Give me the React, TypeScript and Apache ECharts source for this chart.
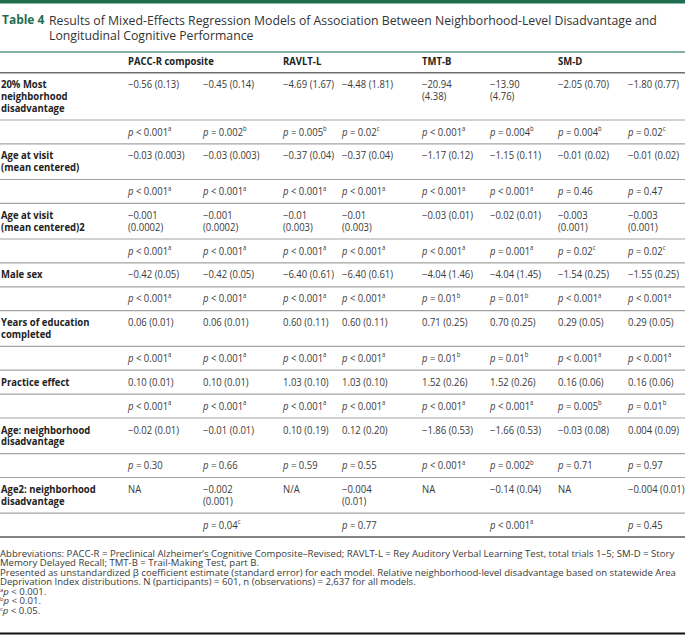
import React, { useEffect, useRef } from "react";
import * as echarts from "echarts";

const titleLabel = "Table 4";
const titleLines = [
  "Results of Mixed-Effects Regression Models of Association Between Neighborhood-Level Disadvantage and",
  "Longitudinal Cognitive Performance",
];

const models = ["PACC-R composite", "RAVLT-L", "TMT-B", "SM-D"];

const rowLabels = [
  "20% Most\nneighborhood\ndisadvantage",
  "Age at visit\n(mean centered)",
  "Age at visit\n(mean centered)2",
  "Male sex",
  "Years of education\ncompleted",
  "Practice effect",
  "Age: neighborhood\ndisadvantage",
  "Age2: neighborhood\ndisadvantage",
];

const estimates: string[][] = [
  ["−0.56 (0.13)", "−0.45 (0.14)", "−4.69 (1.67)", "−4.48 (1.81)", "−20.94\n(4.38)", "−13.90\n(4.76)", "−2.05 (0.70)", "−1.80 (0.77)"],
  ["−0.03 (0.003)", "−0.03 (0.003)", "−0.37 (0.04)", "−0.37 (0.04)", "−1.17 (0.12)", "−1.15 (0.11)", "−0.01 (0.02)", "−0.01 (0.02)"],
  ["−0.001\n(0.0002)", "−0.001\n(0.0002)", "−0.01\n(0.003)", "−0.01\n(0.003)", "−0.03 (0.01)", "−0.02 (0.01)", "−0.003\n(0.001)", "−0.003\n(0.001)"],
  ["−0.42 (0.05)", "−0.42 (0.05)", "−6.40 (0.61)", "−6.40 (0.61)", "−4.04 (1.46)", "−4.04 (1.45)", "−1.54 (0.25)", "−1.55 (0.25)"],
  ["0.06 (0.01)", "0.06 (0.01)", "0.60 (0.11)", "0.60 (0.11)", "0.71 (0.25)", "0.70 (0.25)", "0.29 (0.05)", "0.29 (0.05)"],
  ["0.10 (0.01)", "0.10 (0.01)", "1.03 (0.10)", "1.03 (0.10)", "1.52 (0.26)", "1.52 (0.26)", "0.16 (0.06)", "0.16 (0.06)"],
  ["−0.02 (0.01)", "−0.01 (0.01)", "0.10 (0.19)", "0.12 (0.20)", "−1.86 (0.53)", "−1.66 (0.53)", "−0.03 (0.08)", "0.004 (0.09)"],
  ["NA", "−0.002\n(0.001)", "N/A", "−0.004\n(0.01)", "NA", "−0.14 (0.04)", "NA", "−0.004 (0.01)"],
];

const pValues: string[][] = [
  ["p < 0.001^a", "p = 0.002^b", "p = 0.005^b", "p = 0.02^c", "p < 0.001^a", "p = 0.004^b", "p = 0.004^b", "p = 0.02^c"],
  ["p < 0.001^a", "p < 0.001^a", "p < 0.001^a", "p < 0.001^a", "p < 0.001^a", "p < 0.001^a", "p = 0.46", "p = 0.47"],
  ["p < 0.001^a", "p < 0.001^a", "p < 0.001^a", "p < 0.001^a", "p < 0.001^a", "p = 0.001^a", "p = 0.02^c", "p = 0.02^c"],
  ["p < 0.001^a", "p < 0.001^a", "p < 0.001^a", "p < 0.001^a", "p = 0.01^b", "p = 0.01^b", "p < 0.001^a", "p < 0.001^a"],
  ["p < 0.001^a", "p < 0.001^a", "p < 0.001^a", "p < 0.001^a", "p = 0.01^b", "p = 0.01^b", "p < 0.001^a", "p < 0.001^a"],
  ["p < 0.001^a", "p < 0.001^a", "p < 0.001^a", "p < 0.001^a", "p < 0.001^a", "p < 0.001^a", "p = 0.005^b", "p = 0.01^b"],
  ["p = 0.30", "p = 0.66", "p = 0.59", "p = 0.55", "p < 0.001^a", "p = 0.002^b", "p = 0.71", "p = 0.97"],
  ["", "p = 0.04^c", "", "p = 0.77", "", "p < 0.001^a", "", "p = 0.45"],
];

const footnotes = [
  "Abbreviations: PACC-R = Preclinical Alzheimer’s Cognitive Composite–Revised; RAVLT-L = Rey Auditory Verbal Learning Test, total trials 1–5; SM-D = Story",
  "Memory Delayed Recall; TMT-B = Trail-Making Test, part B.",
  "Presented as unstandardized β coefficient estimate (standard error) for each model. Relative neighborhood-level disadvantage based on statewide Area",
  "Deprivation Index distributions. N (participants) = 601, n (observations) = 2,637 for all models.",
  "^a p < 0.001.",
  "^b p < 0.01.",
  "^c p < 0.05.",
];

const W = 685;
const H = 635;
const FONT = "'Open Sans', 'Noto Sans', sans-serif";
const GREEN = "#1e6d4e";
const colX = [128, 203, 283, 342, 422, 490, 558, 628];
const modelX = [128, 283, 422, 558];
const BODY = 10;
const BODY_SX = 0.95;
const LH = 11.7;
const ROW1 = 23.9;

const richStyles = (size: number, lh: number) => ({
  i: { fontStyle: "italic", fontSize: size, fontFamily: FONT, fill: "#3a3a3a", lineHeight: lh },
  r: { fontSize: size, fontFamily: FONT, fill: "#3a3a3a", lineHeight: lh },
  s: { fontSize: size * 0.62, fontFamily: FONT, fill: "#3a3a3a", verticalAlign: "top", lineHeight: lh },
});

function pRich(s: string): string {
  if (!s) return "";
  const [main, sup] = s.split("^");
  let out = "";
  if (main.startsWith("p ")) out = "{i|p}{r|" + main.slice(1) + "}";
  else out = "{r|" + main + "}";
  if (sup) out += "{s|" + sup + "}";
  return out;
}

function footRich(s: string): string {
  if (s.startsWith("^")) {
    const sup = s.charAt(1);
    const rest = s.slice(3);
    return "{s|" + sup + "}{i|p}{r|" + rest.slice(1) + "}";
  }
  return "{r|" + s + "}";
}

function text(x: number, y: number, t: string, style: any, sx = 1): any {
  return {
    type: "text",
    x,
    y,
    scaleX: sx,
    silent: true,
    style: { text: t, x: 0, y: 0, verticalAlign: "top", align: "left", fontFamily: FONT, ...style },
  };
}

function rule(y: number, color: string, w: number): any {
  return {
    type: "line",
    silent: true,
    shape: { x1: 0, y1: y, x2: W, y2: y },
    style: { stroke: color, lineWidth: w },
  };
}

function buildGraphics(): any[] {
  const g: any[] = [];
  g.push({ type: "rect", shape: { x: 0, y: 0, width: W, height: 3.5 }, style: { fill: GREEN }, silent: true });
  g.push(text(2, 13, titleLabel, { fontSize: 13, fontWeight: "bold", fill: GREEN }, 0.92));
  titleLines.forEach((t, i) => {
    g.push(text(49, 13 + i * 15.5, t, { fontSize: 13, fill: "#333" }, 0.945));
  });
  g.push(rule(52, "#5a9a7c", 1.4));
  models.forEach((m, i) => {
    g.push(text(modelX[i], 56, m, { fontSize: BODY, fontWeight: "bold", fill: "#222" }, BODY_SX));
  });
  let y = 72.7;
  g.push(rule(y, "#6f6f6f", 1.5));
  const nLines = (s: string) => s.split("\n").length;
  rowLabels.forEach((label, r) => {
    const n = Math.max(nLines(label), ...estimates[r].map(nLines));
    const h = ROW1 + (n - 1) * LH;
    const top = y + ROW1 / 2 - LH / 2;
    g.push(text(1, top, label, { fontSize: BODY, fontWeight: "bold", fill: "#222", lineHeight: LH }, BODY_SX));
    estimates[r].forEach((v, c) => {
      g.push(text(colX[c], top, v, { fontSize: BODY, fill: "#3a3a3a", lineHeight: LH }, BODY_SX));
    });
    y += h;
    g.push(rule(y, "#a3a3a3", 1.2));
    const ptop = y + ROW1 / 2 - LH / 2;
    pValues[r].forEach((v, c) => {
      if (!v) return;
      g.push(text(colX[c], ptop, pRich(v), { fontSize: BODY, fill: "#3a3a3a", lineHeight: LH, rich: richStyles(BODY, LH) }, BODY_SX));
    });
    y += ROW1;
    const last = r === rowLabels.length - 1;
    g.push(rule(y, last ? "#5a5a5a" : "#a3a3a3", last ? 1.6 : 1.2));
  });
  const FS = 9.3;
  const FLH = 9.5;
  footnotes.forEach((f, i) => {
    g.push(
      text(0, 548.6 + i * FLH, footRich(f), {
        fontSize: FS,
        fill: "#3a3a3a",
        lineHeight: FLH,
        rich: richStyles(FS, FLH),
      }, 1.03)
    );
  });
  g.push(rule(633.5, "#111", 2));
  return g;
}

export default function App() {
  const ref = useRef<HTMLDivElement>(null);
  useEffect(() => {
    document.body.style.margin = "0";
    if (!ref.current) return;
    const chart = echarts.init(ref.current, null, { renderer: "svg" });
    chart.setOption({
      animation: false,
      backgroundColor: "#ffffff",
      graphic: { elements: buildGraphics() },
    });
    return () => chart.dispose();
  }, []);
  return <div ref={ref} style={{ width: W, height: H }} />;
}
